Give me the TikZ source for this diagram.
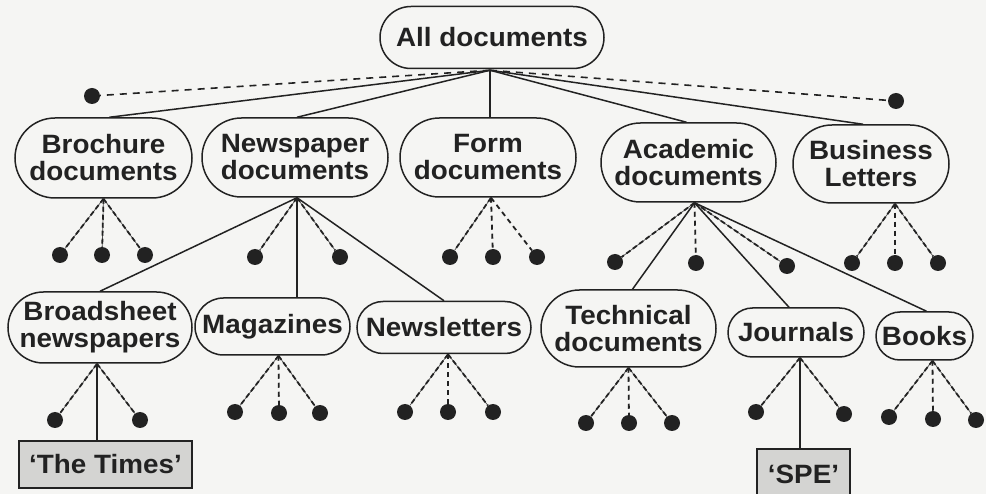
\documentclass[tikz,border=0pt]{standalone}
\usepackage{fontspec}
\setmainfont{Liberation Sans}[FakeStretch=1.05]
\usetikzlibrary{shapes.misc,calc}
\definecolor{ink}{HTML}{222222}
\definecolor{paper}{HTML}{F5F5F3}
\definecolor{boxgray}{HTML}{D4D4D2}
\begin{document}
\begin{tikzpicture}[x=1pt,y=-1pt,
  every node/.style={font=\bfseries\fontsize{26.5}{27}\selectfont, text=ink},
  doc/.style={draw=ink, line width=1.5pt, rounded rectangle, inner sep=0pt, align=center, fill=paper},
  tag/.style={draw=ink, line width=1.5pt, fill=boxgray, inner sep=0pt},
  leaf/.style={circle, fill=ink, minimum size=16pt, inner sep=0pt},
  link/.style={draw=ink, line width=1.5pt},
  leafline/.style={draw=ink, line width=1.8pt, dash pattern=on 5pt off 3pt,
    preaction={draw=ink!80, line width=0.7pt, solid}},
  leafdash/.style={draw=ink, line width=1.8pt, dash pattern=on 5pt off 4pt},
  dotline/.style={draw=ink, line width=1.6pt, dash pattern=on 7pt off 6pt},
]
\fill[paper] (0,0) rectangle (986,494);
\useasboundingbox (0,0) rectangle (986,494);

% ---- leaf dots ----
\node[leaf] (dl) at (92,96) {};
\node[leaf] (dr) at (896,101) {};
\node[leaf] (b1) at (60,255) {};
\node[leaf] (b2) at (102,255) {};
\node[leaf] (b3) at (145,255) {};
\node[leaf] (n1) at (255,257) {};
\node[leaf] (n2) at (340,257) {};
\node[leaf] (f1) at (450,257) {};
\node[leaf] (f2) at (493,257) {};
\node[leaf] (f3) at (537,257) {};
\node[leaf] (a1) at (615,262) {};
\node[leaf] (a2) at (696,263) {};
\node[leaf] (a3) at (787,266) {};
\node[leaf] (u1) at (852,263) {};
\node[leaf] (u2) at (895,263) {};
\node[leaf] (u3) at (938,263) {};
\node[leaf] (r1) at (55,420) {};
\node[leaf] (r2) at (140,420) {};
\node[leaf] (m1) at (235,412) {};
\node[leaf] (m2) at (279,413) {};
\node[leaf] (m3) at (320,413) {};
\node[leaf] (l1) at (405,412) {};
\node[leaf] (l2) at (448,412) {};
\node[leaf] (l3) at (493,412) {};
\node[leaf] (t1) at (586,423) {};
\node[leaf] (t2) at (629,423) {};
\node[leaf] (t3) at (672,423) {};
\node[leaf] (j1) at (756,412) {};
\node[leaf] (j2) at (844,414) {};
\node[leaf] (k1) at (889,417) {};
\node[leaf] (k2) at (933,419) {};
\node[leaf] (k3) at (976,420) {};

% ---- document class nodes ----
\node[doc, minimum width=224pt, minimum height=62pt] (all) at (492,37.5) {All documents};
\node[doc, minimum width=177pt, minimum height=80pt] (bro) at (103.5,158) {Brochure\\documents};
\node[doc, minimum width=186pt, minimum height=79pt] (news) at (295,157.5) {Newspaper\\documents};
\node[doc, minimum width=176pt, minimum height=79pt] (form) at (488,157.5) {Form\\documents};
\node[doc, minimum width=175pt, minimum height=79pt] (acad) at (688.5,162.5) {Academic\\documents};
\node[doc, minimum width=156pt, minimum height=78pt] (bus) at (871,164) {Business\\Letters};
\node[doc, minimum width=184pt, minimum height=71pt] (broad) at (100,327.5) {Broadsheet\\newspapers};
\node[doc, minimum width=155pt, minimum height=57pt] (mag) at (272.5,326.5) {Magazines};
\node[doc, minimum width=174pt, minimum height=52pt] (nl) at (444,327.5) {Newsletters};
\node[doc, minimum width=175pt, minimum height=77pt] (tech) at (628.5,328.5) {Technical\\documents};
\node[doc, minimum width=136pt, minimum height=49pt] (jour) at (796,332.5) {Journals};
\node[doc, minimum width=97pt, minimum height=48pt] (books) at (924.5,336) {Books};
\node[tag, minimum width=173pt, minimum height=47pt] (times) at (105.5,464.5) {‘The Times’};
\node[tag, minimum width=93pt, minimum height=50pt] (spe) at (803.5,474) {‘SPE’};

% ---- origin points ----
\coordinate (allO) at ($(all.south)+(-2,1)$);
\coordinate (broO) at (bro.south);
\coordinate (newsO) at ($(news.south)+(2,0)$);
\coordinate (formO) at ($(form.south)+(3,0)$);
\coordinate (acadO) at ($(acad.south)+(6,0)$);
\coordinate (busO) at ($(bus.south)+(24,0)$);
\coordinate (broadO) at ($(broad.south)+(-3,0)$);
\coordinate (magO) at ($(mag.south)+(6,0)$);
\coordinate (nlO) at ($(nl.south)+(4,0)$);
\coordinate (techO) at (tech.south);
\coordinate (jourO) at ($(jour.south)+(4,0)$);
\coordinate (booksO) at ($(books.south)+(8,0)$);

% ---- top level ----
\draw[dotline] (allO) -- (dl);
\draw[dotline] (allO) -- (dr);
\draw[link] (allO) -- ($(bro.north)+(6,0)$);
\draw[link] (allO) -- ($(news.north)+(2,0)$);
\draw[link] (allO) -- (allO |- form.north);
\draw[link] (allO) -- ($(acad.north)+(-2,0)$);
\draw[link] (allO) -- ($(bus.north)+(-8,0)$);

% ---- brochure ----
\draw[leafline] (broO) -- (b1);
\draw[leafline] (broO) -- (b2);
\draw[leafline] (broO) -- (b3);
% ---- newspaper ----
\draw[leafline] (newsO) -- (n1);
\draw[leafline] (newsO) -- (n2);
\draw[link] (newsO) -- (broad.north);
\draw[link] (newsO) -- (newsO |- mag.north);
\draw[link] (newsO) -- (nl.north);
% ---- form ----
\draw[leafline] (formO) -- (f1);
\draw[leafdash] (formO) -- (f2);
\draw[leafdash] (formO) -- (f3);
% ---- academic ----
\draw[leafline] (acadO) -- (a1);
\draw[leafdash] (acadO) -- (a2);
\draw[leafline] (acadO) -- (a3);
\draw[link] (acadO) -- ($(tech.north)+(4,0)$);
\draw[link] (acadO) -- ($(jour.north)+(-7,0)$);
\draw[link] (acadO) -- ($(books.north)+(2,0)$);
% ---- business ----
\draw[leafline] (busO) -- (u1);
\draw[leafdash] (busO) -- (u2);
\draw[leafline] (busO) -- (u3);
% ---- second level ----
\draw[leafline] (broadO) -- (r1);
\draw[leafline] (broadO) -- (r2);
\draw[link] (broadO) -- (broadO |- times.north);
\draw[leafline] (magO) -- (m1);
\draw[leafdash] (magO) -- (m2);
\draw[leafline] (magO) -- (m3);
\draw[leafline] (nlO) -- (l1);
\draw[leafdash] (nlO) -- (l2);
\draw[leafline] (nlO) -- (l3);
\draw[leafline] (techO) -- (t1);
\draw[leafdash] (techO) -- (t2);
\draw[leafline] (techO) -- (t3);
\draw[leafline] (jourO) -- (j1);
\draw[leafline] (jourO) -- (j2);
\draw[link] (jourO) -- (jourO |- spe.north);
\draw[leafline] (booksO) -- (k1);
\draw[leafdash] (booksO) -- (k2);
\draw[leafline] (booksO) -- (k3);
\end{tikzpicture}
\end{document}
